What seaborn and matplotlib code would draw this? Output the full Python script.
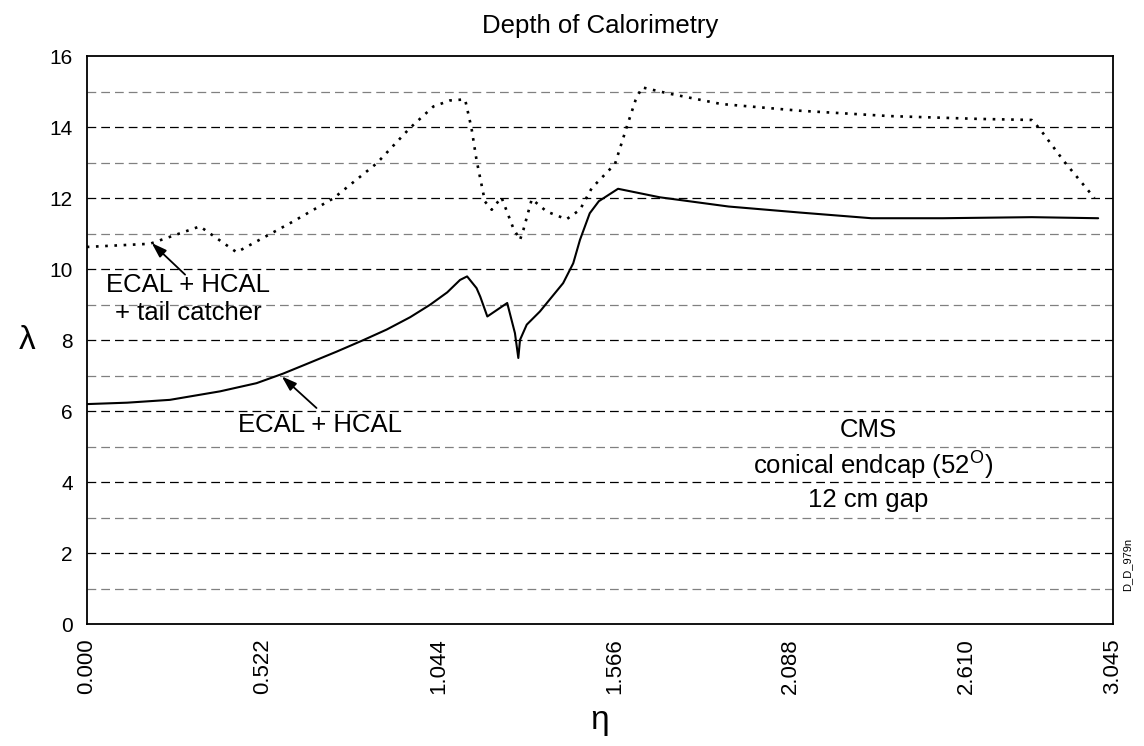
import numpy as np
import pandas as pd
import matplotlib
import matplotlib.pyplot as plt
import seaborn as sns
from matplotlib.ticker import MultipleLocator, FixedLocator

matplotlib.use('Agg')

# Depth (interaction lengths) vs pseudorapidity
eta_tail = [0.0, 0.188, 0.336, 0.445, 0.613, 0.732, 0.861, 0.959, 1.029, 1.078,
            1.123, 1.142, 1.157, 1.167, 1.182, 1.202, 1.231, 1.266, 1.286, 1.296,
            1.321, 1.365, 1.424, 1.464, 1.499, 1.568, 1.603, 1.629, 1.648, 1.725,
            1.883, 2.117, 2.382, 2.647, 2.805, 2.827, 2.901, 2.991]
lam_tail = [10.63, 10.72, 11.21, 10.48, 11.35, 12.0, 12.99, 13.98, 14.59, 14.76,
            14.79, 13.98, 13.08, 12.61, 11.91, 11.68, 12.03, 11.16, 10.83, 11.11,
            11.98, 11.63, 11.41, 11.68, 12.29, 12.97, 14.02, 14.77, 15.13, 14.96,
            14.66, 14.47, 14.32, 14.24, 14.21, 13.98, 13.04, 12.01]

eta_ecal = [0.0, 0.12, 0.247, 0.396, 0.504, 0.583, 0.65, 0.742, 0.82, 0.89,
            0.96, 1.019, 1.07, 1.108, 1.129, 1.157, 1.168, 1.189, 1.248, 1.271,
            1.281, 1.286, 1.306, 1.345, 1.414, 1.444, 1.464, 1.493, 1.52, 1.577,
            1.701, 1.905, 2.117, 2.329, 2.541, 2.805, 3.002]
lam_ecal = [6.20, 6.24, 6.32, 6.56, 6.79, 7.06, 7.32, 7.68, 8.0, 8.30,
            8.65, 9.0, 9.35, 9.70, 9.80, 9.47, 9.23, 8.67, 9.05, 8.20,
            7.50, 8.01, 8.44, 8.81, 9.61, 10.17, 10.83, 11.58, 11.92, 12.27,
            12.03, 11.77, 11.60, 11.44, 11.44, 11.47, 11.44]

major_ticks = [0.0, 0.522, 1.044, 1.566, 2.088, 2.610, 3.045]
major_labels = ["0.000", "0.522", "1.044", "1.566", "2.088", "2.610", "3.045"]

sns.set_style("white")
plt.rcParams['font.family'] = ['Liberation Sans', 'DejaVu Sans']
plt.rcParams['mathtext.fontset'] = 'custom'
plt.rcParams['mathtext.rm'] = 'Liberation Sans'
plt.rcParams['text.color'] = 'black'
plt.rcParams['axes.labelcolor'] = 'black'
plt.rcParams['xtick.color'] = 'black'
plt.rcParams['ytick.color'] = 'black'

df_tail = pd.DataFrame({"eta": eta_tail, "lam": lam_tail})
df_ecal = pd.DataFrame({"eta": eta_ecal, "lam": lam_ecal})

fig = plt.figure(figsize=(11.44, 7.46), dpi=100)
ax = fig.add_axes([0.0758, 0.1635, 0.8968, 0.7608])

# Horizontal dashed grid: even values dark, odd values grey
for v in range(1, 16):
    col = 'black' if v % 2 == 0 else '#808080'
    ax.axhline(v, color=col, lw=0.9, linestyle=(0, (7, 4)), zorder=1)

sns.lineplot(data=df_tail, x="eta", y="lam", ax=ax, color='black', lw=1.9,
             linestyle=(0, (1, 2.5)), sort=False, estimator=None, zorder=3)
sns.lineplot(data=df_ecal, x="eta", y="lam", ax=ax, color='black', lw=1.5,
             sort=False, estimator=None, zorder=3)

ax.set_xlim(0, 3.045)
ax.set_ylim(0, 16)
ax.xaxis.set_major_locator(FixedLocator(major_ticks))
ax.set_xticklabels(major_labels, rotation=90, fontsize=16)
ax.xaxis.set_minor_locator(FixedLocator(np.arange(0.087, 3.045, 0.087)))
ax.yaxis.set_major_locator(MultipleLocator(2))
ax.tick_params(axis='x', which='major', direction='in', length=11.5, width=1, pad=10)
ax.tick_params(axis='x', which='minor', direction='in', length=6.7, width=1)
ax.tick_params(axis='y', which='both', length=0, labelsize=15, pad=10)

for sp in ax.spines.values():
    sp.set_visible(True)
    sp.set_color('black')
    sp.set_linewidth(1.3)

ax.set_xlabel("η", fontsize=24, labelpad=8)
ax.set_ylabel("λ", fontsize=24, rotation=0, labelpad=16, va='center')
ax.set_title("Depth of Calorimetry", fontsize=18.5, pad=17)

arrow = dict(arrowstyle='-|>,head_length=0.9,head_width=0.3', color='black',
             lw=1.3, shrinkA=0, shrinkB=0)
ax.annotate('', xy=(0.193, 10.74), xytext=(0.292, 9.85), arrowprops=arrow)
ax.text(0.302, 9.55, "ECAL + HCAL", ha='center', va='center', fontsize=18.5)
ax.text(0.302, 8.76, "+ tail catcher", ha='center', va='center', fontsize=18.5)

ax.annotate('', xy=(0.579, 6.98), xytext=(0.682, 6.09), arrowprops=arrow)
ax.text(0.692, 5.62, "ECAL + HCAL", ha='center', va='center', fontsize=18.5)

ax.text(2.319, 5.48, "CMS", ha='center', va='center', fontsize=18.5)
ax.text(2.334, 4.49, r"conical endcap (52$^{\mathrm{O}}$)", ha='center', va='center', fontsize=18.5)
ax.text(2.319, 3.51, "12 cm gap", ha='center', va='center', fontsize=18.5)

fig.text(0.985, 0.243, "D_D_979n", rotation=90, ha='center', va='center', fontsize=8)

fig.savefig("out.png", dpi=100)
